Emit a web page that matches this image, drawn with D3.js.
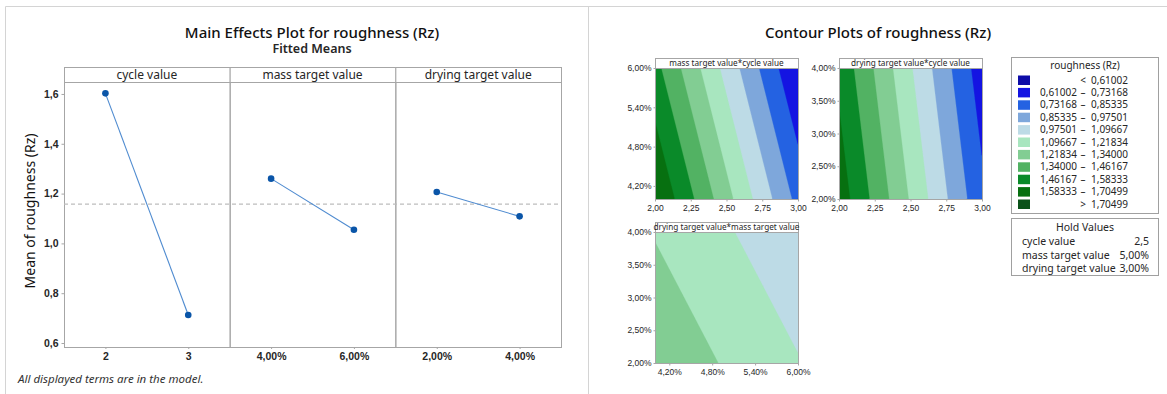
<!DOCTYPE html>
<html>
<head>
<meta charset="utf-8">
<script src="https://cdn.jsdelivr.net/npm/d3@7"></script>
<style>
  body { margin: 0; background: #fff; }
  svg { display: block; font-family: "Segoe UI", "Noto Sans", "Open Sans", sans-serif; }
</style>
</head>
<body>
<svg id="chart" width="1167" height="394"></svg>
<script>
// ---- Main effects: fitted means of roughness (Rz) per factor level ----
const factors = ["cycle value", "mass target value", "drying target value"];
const cycleLevels = [2, 3];
const massLevels = [4, 6];
const dryingLevels = [2, 4];
const cycleLabels = ["2", "3"];
const massLabels = ["4,00%", "6,00%"];
const dryingLabels = ["2,00%", "4,00%"];
const cycleMeans = [1.6025, 0.7125];
const massMeans = [1.260, 1.055];
const dryingMeans = [1.2065, 1.1085];
const grandMean = 1.1575;
const meanTicks = [0.6, 0.8, 1.0, 1.2, 1.4, 1.6];

// ---- Contour plots ----
const contourLevels = [0.61002, 0.73168, 0.85335, 0.97501, 1.09667, 1.21834, 1.34000, 1.46167, 1.58333, 1.70499];
const contourColors = ["#0d0ca8", "#1414e2", "#2462e2", "#7ea7db", "#bddbe6", "#a8e6bf",
                       "#82cd93", "#52b263", "#0a8a29", "#077010", "#0b5219"];
const holdValues = [2.5, 5, 3];
const holdLabels = ["2,5", "5,00%", "3,00%"];
const cycleTicks = [2, 2.25, 2.5, 2.75, 3];
const massTicks = [4.2, 4.8, 5.4, 6.0];
const dryingTicks = [2, 2.5, 3, 3.5, 4];

const levels = [cycleLevels, massLevels, dryingLevels];
const levelLabels = [cycleLabels, massLabels, dryingLabels];
const means = [cycleMeans, massMeans, dryingMeans];

const loc = d3.formatLocale({ decimal: ",", thousands: ".", grouping: [3], currency: ["", ""] });
const f1 = loc.format(".1f"), f2 = loc.format(".2f"), f5 = loc.format(".5f");

const svg = d3.select("#chart");
const ink = "#262626", frame = "#a6a6a6";

// window frames
svg.append("path").attr("d", "M5.5,394V6.5H1167M588.5,6.5V394")
  .attr("fill", "none").attr("stroke", "#d4d4d4");

// ================= Main effects plot =================
svg.append("text").attr("x", 312).attr("y", 38).attr("text-anchor", "middle")
  .attr("font-size", 15).attr("font-weight", 500).attr("fill", "#111").text("Main Effects Plot for roughness (Rz)");
svg.append("text").attr("x", 312).attr("y", 53).attr("text-anchor", "middle")
  .attr("font-size", 12.5).attr("font-weight", 600).attr("fill", ink).text("Fitted Means");

const plotTop = 82, plotBottom = 347, stripTop = 67;
const xPanel = d3.scaleBand().domain(factors).range([64, 561]);
const y = d3.scaleLinear().domain([0.584, 1.648]).range([plotBottom, plotTop]);

// strips
const strips = svg.append("g");
strips.selectAll("rect").data(factors).join("rect")
  .attr("x", d => xPanel(d) + 0.5).attr("y", stripTop + 0.5)
  .attr("width", xPanel.bandwidth()).attr("height", plotTop - stripTop)
  .attr("fill", "#fff").attr("stroke", frame);
strips.selectAll("text").data(factors).join("text")
  .attr("x", d => xPanel(d) + xPanel.bandwidth() / 2).attr("y", stripTop + 11.5)
  .attr("text-anchor", "middle").attr("font-size", 12).attr("fill", ink).text(d => d);

// panels
svg.append("g").selectAll("rect").data(factors).join("rect")
  .attr("x", d => xPanel(d) + 0.5).attr("y", plotTop + 0.5)
  .attr("width", xPanel.bandwidth()).attr("height", plotBottom - plotTop)
  .attr("fill", "none").attr("stroke", frame);

// reference line at the overall mean
svg.append("line").attr("x1", 64).attr("x2", 561)
  .attr("y1", y(grandMean)).attr("y2", y(grandMean))
  .attr("stroke", "#bdbdbd").attr("stroke-width", 1.2).attr("stroke-dasharray", "4,3");

// y axis
const yAxis = svg.append("g").attr("transform", "translate(64.5,0)")
  .call(d3.axisLeft(y).tickValues(meanTicks).tickFormat(f1).tickSize(3).tickSizeOuter(0));
yAxis.select(".domain").remove();
yAxis.selectAll("line").attr("stroke", frame);
yAxis.selectAll("text").attr("font-size", 10.5).attr("font-weight", 600)
  .attr("fill", ink).attr("font-family", null).attr("x", -6);

svg.append("text").attr("transform", "translate(35,211) rotate(-90)")
  .attr("text-anchor", "middle").attr("font-size", 14).attr("fill", "#111")
  .text("Mean of roughness (Rz)");

// each factor: x ticks, line and points
factors.forEach((fac, k) => {
  const x = d3.scalePoint().domain(levelLabels[k]).range([xPanel(fac), xPanel(fac) + xPanel.bandwidth()]).padding(0.5);
  const g = svg.append("g");
  const xa = g.append("g").attr("transform", `translate(0,${plotBottom})`)
    .call(d3.axisBottom(x).tickSize(2).tickSizeOuter(0));
  xa.select(".domain").remove();
  xa.selectAll("line").attr("stroke", frame);
  xa.selectAll("text").attr("font-size", 10.5).attr("font-weight", 600)
    .attr("fill", ink).attr("font-family", null).attr("y", 6);
  const pts = levelLabels[k].map((l, i) => [x(l), y(means[k][i])]);
  g.append("path").attr("d", d3.line()(pts)).attr("fill", "none")
    .attr("stroke", "#4f8bd0").attr("stroke-width", 1.1);
  g.selectAll("circle").data(pts).join("circle")
    .attr("cx", d => d[0]).attr("cy", d => d[1]).attr("r", 3.3).attr("fill", "#0a55a8");
});

svg.append("text").attr("x", 18).attr("y", 383).attr("font-size", 11.5)
  .attr("font-style", "italic").attr("fill", "#333").text("All displayed terms are in the model.");

// ================= Contour plots =================
svg.append("text").attr("x", 878).attr("y", 38).attr("text-anchor", "middle")
  .attr("font-size", 15).attr("font-weight", 500).attr("fill", "#111").text("Contour Plots of roughness (Rz)");

// additive fitted model built from the level means
function effect(k, v) {
  const [a, b] = levels[k], [ma, mb] = means[k];
  return ma + (v - a) / (b - a) * (mb - ma) - grandMean;
}
function fitted(vals) { return grandMean + d3.sum(vals, (v, k) => effect(k, v)); }

const tickFmt = [f2, v => f2(v) + "%", v => f2(v) + "%"];
const tickSets = [cycleTicks, massTicks, dryingTicks];

const panels = [
  { xf: 0, yf: 1, title: "mass target value*cycle value", x0: 655, y0: 68 },
  { xf: 0, yf: 2, title: "drying target value*cycle value", x0: 839, y0: 68 },
  { xf: 1, yf: 2, title: "drying target value*mass target value", x0: 655, y0: 232 }
];
const pw = 143, ph = 131, stripH = 10;

panels.forEach((p, pi) => {
  const xs = d3.scaleLinear().domain(d3.extent(levels[p.xf])).range([p.x0, p.x0 + pw]);
  const ys = d3.scaleLinear().domain(d3.extent(levels[p.yf])).range([p.y0 + ph, p.y0]);
  const nx = pw, ny = ph;
  const values = new Array(nx * ny);
  for (let r = 0; r < ny; r++) {
    for (let c = 0; c < nx; c++) {
      const vals = holdValues.slice();
      vals[p.xf] = xs.invert(p.x0 + (c + 0.5) * pw / nx);
      vals[p.yf] = ys.invert(p.y0 + (r + 0.5) * ph / ny);
      values[r * nx + c] = fitted(vals);
    }
  }
  const g = svg.append("g");
  const clipId = "clip" + pi;
  g.append("clipPath").attr("id", clipId).append("rect")
    .attr("x", p.x0).attr("y", p.y0).attr("width", pw).attr("height", ph);
  const body = g.append("g").attr("clip-path", `url(#${clipId})`);
  body.append("rect").attr("x", p.x0).attr("y", p.y0).attr("width", pw).attr("height", ph)
    .attr("fill", contourColors[0]);
  const proj = d3.geoTransform({
    point(px, py) { this.stream.point(p.x0 + px * pw / nx, p.y0 + py * ph / ny); }
  });
  const path = d3.geoPath(proj);
  const bands = d3.contours().size([nx, ny]).thresholds(contourLevels)(values);
  body.selectAll("path").data(bands).join("path")
    .attr("d", path).attr("fill", (d, i) => contourColors[i + 1])
    .attr("stroke", (d, i) => contourColors[i + 1]).attr("stroke-width", 0.3);

  // frame + strip
  g.append("rect").attr("x", p.x0 + 0.5).attr("y", p.y0 - stripH + 0.5)
    .attr("width", pw).attr("height", stripH).attr("fill", "#fff").attr("stroke", frame);
  g.append("text").attr("x", p.x0 + pw / 2).attr("y", p.y0 - 2)
    .attr("text-anchor", "middle").attr("font-size", 8.2).attr("fill", ink).text(p.title);
  g.append("rect").attr("x", p.x0 + 0.5).attr("y", p.y0 + 0.5).attr("width", pw).attr("height", ph)
    .attr("fill", "none").attr("stroke", frame);

  const xa = g.append("g").attr("transform", `translate(0,${p.y0 + ph + 0.5})`)
    .call(d3.axisBottom(xs).tickValues(tickSets[p.xf]).tickFormat(tickFmt[p.xf]).tickSize(2).tickSizeOuter(0));
  const ya = g.append("g").attr("transform", `translate(${p.x0 + 0.5},0)`)
    .call(d3.axisLeft(ys).tickValues(tickSets[p.yf]).tickFormat(tickFmt[p.yf]).tickSize(2).tickSizeOuter(0));
  [xa, ya].forEach(a => {
    a.select(".domain").remove();
    a.selectAll("line").attr("stroke", frame);
    a.selectAll("text").attr("font-size", 8.5).attr("fill", ink).attr("font-family", null);
  });
  xa.selectAll("text").attr("y", 5);
  ya.selectAll("text").attr("x", -4);
});

// legend
const lg = svg.append("g");
lg.append("rect").attr("x", 1011.5).attr("y", 57.5).attr("width", 147).attr("height", 156)
  .attr("fill", "#fff").attr("stroke", "#a0a0a0");
lg.append("text").attr("x", 1085).attr("y", 69).attr("text-anchor", "middle")
  .attr("font-size", 10).attr("fill", ink).text("roughness (Rz)");
const rows = contourColors.map((c, i) => ({ c, i }));
const row = lg.selectAll("g.row").data(rows).join("g").attr("class", "row")
  .attr("transform", d => `translate(0,${80 + d.i * 12.4})`);
row.append("rect").attr("x", 1018).attr("y", -4.5).attr("width", 12).attr("height", 9.5)
  .attr("fill", d => d.c);
row.append("text").attr("x", 1077).attr("y", 3.5).attr("text-anchor", "end")
  .attr("font-size", 10).attr("fill", ink)
  .text(d => (d.i === 0 || d.i === contourColors.length - 1) ? "" : f5(contourLevels[d.i - 1]));
row.append("text").attr("x", 1083).attr("y", 3.5).attr("text-anchor", "middle")
  .attr("font-size", 10).attr("fill", ink)
  .text(d => d.i === 0 ? "<" : d.i === contourColors.length - 1 ? ">" : "–");
row.append("text").attr("x", 1128).attr("y", 3.5).attr("text-anchor", "end")
  .attr("font-size", 10).attr("fill", ink)
  .text(d => d.i === contourColors.length - 1 ? f5(contourLevels[d.i - 1]) : f5(contourLevels[d.i]));

// hold values
const hg = svg.append("g");
hg.append("rect").attr("x", 1011.5).attr("y", 218.5).attr("width", 147).attr("height", 57)
  .attr("fill", "#fff").attr("stroke", "#a0a0a0");
hg.append("text").attr("x", 1085).attr("y", 231).attr("text-anchor", "middle")
  .attr("font-size", 10.5).attr("fill", ink).text("Hold Values");
factors.forEach((fac, k) => {
  hg.append("text").attr("x", 1022).attr("y", 245 + k * 13.5).attr("font-size", 10.5)
    .attr("fill", ink).text(fac);
  hg.append("text").attr("x", 1149).attr("y", 245 + k * 13.5).attr("text-anchor", "end")
    .attr("font-size", 10.5).attr("fill", ink).text(holdLabels[k]);
});
</script>
</body>
</html>
